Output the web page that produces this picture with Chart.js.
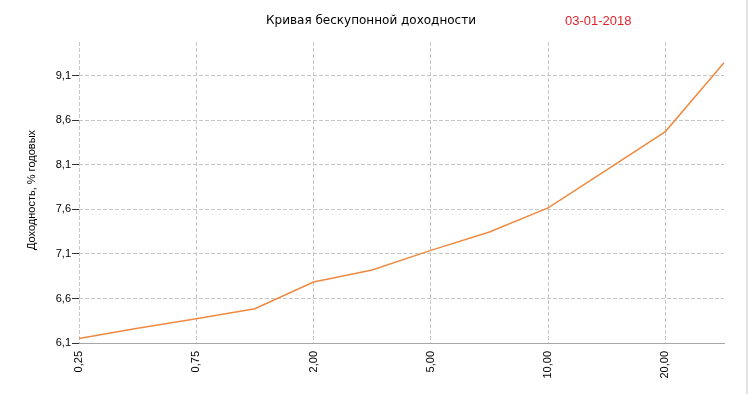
<!DOCTYPE html>
<html>
<head>
<meta charset="utf-8">
<script src="https://cdn.jsdelivr.net/npm/chart.js@4/dist/chart.umd.min.js"></script>
<style>
  html, body { margin: 0; padding: 0; background: #fff; }
  #wrap { position: relative; width: 749px; height: 394px; overflow: hidden; }
  #frame { position: absolute; left: 746px; top: 0; width: 2px; height: 394px; background: #e4e4e4; }
</style>
</head>
<body>
<div id="wrap">
  <canvas id="c" width="749" height="394"></canvas>
  <div id="frame"></div>
</div>
<script>
// Terms (years) - categories on the x axis
const terms = [0.25, 0.5, 0.75, 1, 2, 3, 5, 7, 10, 15, 20, 30];
// Zero-coupon yield, % per annum
const yields = [6.15, 6.265, 6.373, 6.485, 6.785, 6.92, 7.14, 7.347, 7.617, 8.045, 8.474, 9.246];
// Y tick values
const yTicks = [6.1, 6.6, 7.1, 7.6, 8.1, 8.6, 9.1];
const titleText = 'Кривая бескупонной доходности';
const dateText = '03-01-2018';
const yTitle = 'Доходность, % годовых';

const fmt = (v, d) => v.toFixed(d).replace('.', ',');
const categories = terms.map(t => fmt(t, 2));

const textPlugin = {
  id: 'texts',
  afterDraw(chart) {
    const ctx = chart.ctx;
    ctx.save();
    ctx.textBaseline = 'middle';
    ctx.fillStyle = '#000';
    ctx.font = '12px "DejaVu Sans"';
    ctx.textAlign = 'center';
    ctx.fillText(titleText, 371, 21);
    ctx.fillStyle = '#e0232b';
    ctx.font = '13px "Liberation Sans"';
    ctx.textAlign = 'left';
    ctx.fillText(dateText, 565, 21);
    ctx.translate(32, 190);
    ctx.rotate(-Math.PI / 2);
    ctx.textAlign = 'center';
    ctx.fillStyle = '#000';
    ctx.font = '11px "Liberation Sans"';
    ctx.fillText(yTitle, 0, 0);
    ctx.restore();
  }
};

new Chart(document.getElementById('c'), {
  type: 'line',
  data: {
    labels: categories,
    datasets: [{
      data: yields,
      borderColor: '#ef8a42',
      borderWidth: 1.5,
      pointRadius: 0,
      fill: false,
      tension: 0
    }]
  },
  options: {
    responsive: false,
    animation: false,
    devicePixelRatio: 1,
    layout: { padding: { top: 42, right: 25, left: 0, bottom: 0 } },
    plugins: { legend: { display: false }, tooltip: { enabled: false }, title: { display: false } },
    scales: {
      x: {
        type: 'category',
        offset: false,
        afterFit(s) { s.height = 51; },
        ticks: {
          autoSkip: false,
          maxRotation: 90,
          minRotation: 90,
          padding: 2,
          color: '#000',
          font: { family: 'Liberation Sans', size: 11 },
          callback(v, i) { return i % 2 === 0 ? categories[i] : null; }
        },
        grid: {
          color: '#c6c6c6',
          tickLength: 6,
          tickColor: 'rgba(0,0,0,0)',
          tickBorderDash: []
        },
        border: { display: true, color: '#a8a8a8', dash: [4, 2] }
      },
      y: {
        min: 6.1,
        max: 9.48,
        afterFit(s) { s.width = 79; },
        afterBuildTicks(s) { s.ticks = yTicks.map(v => ({ value: v })); },
        ticks: {
          padding: 1,
          color: '#000',
          font: { family: 'Liberation Sans', size: 11 },
          callback(v) { return fmt(v, 1); }
        },
        grid: {
          color: '#c6c6c6',
          tickLength: 7,
          tickColor: '#333',
          tickBorderDash: []
        },
        border: { display: false, dash: [4, 2] }
      }
    }
  },
  plugins: [textPlugin]
});
</script>
</body>
</html>
